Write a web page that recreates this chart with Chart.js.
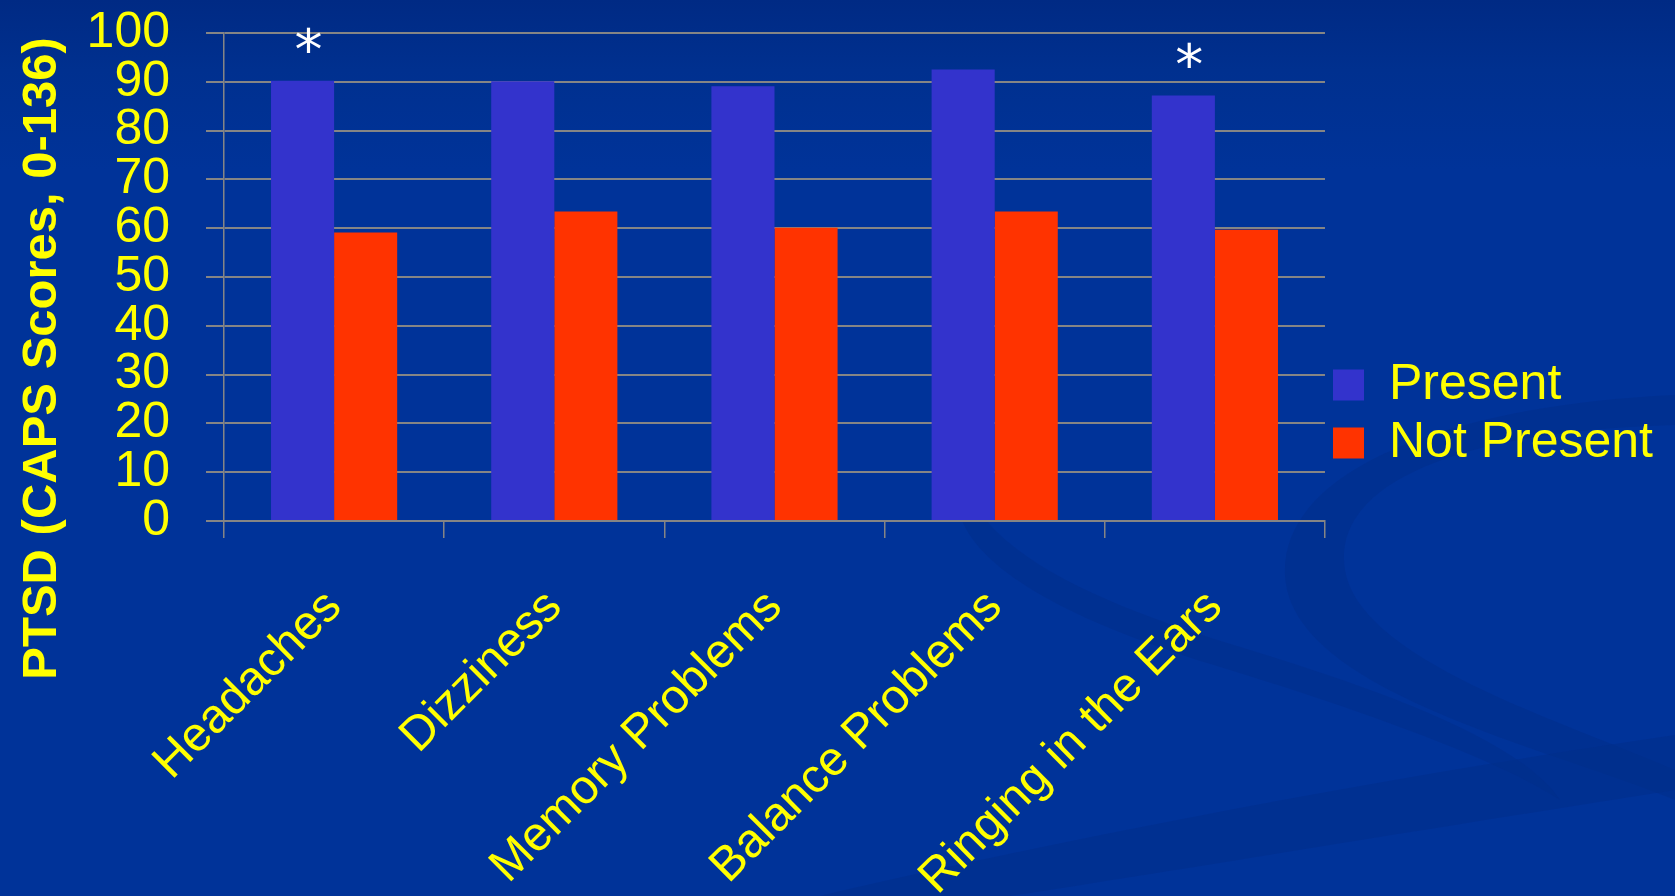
<!DOCTYPE html>
<html lang="en">
<head>
<meta charset="UTF-8">
<title>PTSD (CAPS Scores) by Post-Concussive Symptom</title>
<script src="https://cdn.jsdelivr.net/npm/chart.js"></script>
<style>
    html, body { margin: 0; padding: 0; }
    body {
        width: 1675px;
        height: 896px;
        overflow: hidden;
        background-color: #003399;
        background-image:
            url("data:image/svg+xml,%3Csvg xmlns='http://www.w3.org/2000/svg' width='1675' height='896'%3E%3Cg fill='%23002e8a' fill-opacity='0.5'%3E%3Cpath d='M1675 425 C1470 430 1330 480 1345 570 C1360 660 1560 720 1675 770 L1675 800 C1540 745 1290 690 1285 575 C1280 470 1450 405 1675 395 Z'/%3E%3Cpath d='M820 896 C1080 835 1400 775 1675 735 L1675 790 C1420 830 1180 870 1010 896 Z'/%3E%3Cpath d='M960 470 C980 560 1120 610 1250 650 C1380 690 1520 740 1560 800 C1500 760 1360 710 1230 670 C1080 625 930 560 960 470 Z'/%3E%3C/g%3E%3C/svg%3E"),
            linear-gradient(to bottom, #002a84 0px, #00308f 70px, #003399 170px);
        background-repeat: no-repeat;
    }
    #capsChart { display: block; }
</style>
</head>
<body>
<canvas id="capsChart" width="1675" height="896"></canvas>
<script>
// chart data
const symptoms = ['Headaches', 'Dizziness', 'Memory Problems', 'Balance Problems', 'Ringing in the Ears'];
const presentScores = [90.2, 90.1, 89.1, 92.5, 87.2];
const notPresentScores = [59.1, 63.4, 60.1, 63.4, 59.7];
const significance = ['*', '', '', '', '*'];
const seriesNames = ['Present', 'Not Present'];
const yTitle = 'PTSD (CAPS Scores, 0-136)';
const yMin = 0, yMax = 100, yStep = 10;

const sans = "'Liberation Sans', Arial, sans-serif";
const yellow = '#ffff00';
const gridGray = '#858585';

// rotated axis title, sits a bit lower than the plot centre like the slide
const yTitlePlugin = {
    id: 'yTitle',
    afterDraw(chart) {
        const ctx = chart.ctx;
        ctx.save();
        ctx.translate(42, chart.height * 0.4);
        ctx.rotate(-Math.PI / 2);
        ctx.font = 'bold 49px ' + sans;
        ctx.fillStyle = yellow;
        ctx.textAlign = 'center';
        ctx.textBaseline = 'middle';
        ctx.fillText(yTitle, 0, 0);
        ctx.restore();
    }
};

// asterisks above the significant "Present" bars
const starPlugin = {
    id: 'stars',
    afterDatasetsDraw(chart) {
        const ctx = chart.ctx;
        const bars = chart.getDatasetMeta(0).data;
        ctx.save();
        ctx.font = '56px DejaVu Sans';
        ctx.fillStyle = '#ffffff';
        ctx.textAlign = 'center';
        ctx.textBaseline = 'middle';
        bars.forEach((bar, i) => {
            if (significance[i]) ctx.fillText(significance[i], bar.x + 6, bar.y - 26);
        });
        ctx.restore();
    }
};

new Chart(document.getElementById('capsChart'), {
    type: 'bar',
    data: {
        labels: symptoms,
        datasets: [
            { label: seriesNames[0], data: presentScores, backgroundColor: '#3333cc' },
            { label: seriesNames[1], data: notPresentScores, backgroundColor: '#ff3300' }
        ]
    },
    options: {
        responsive: false,
        animation: false,
        layout: { padding: { top: 33, right: 12, bottom: 0, left: 0 } },
        datasets: { bar: { categoryPercentage: 0.573, barPercentage: 1 } },
        scales: {
            x: {
                grid: { drawOnChartArea: false, tickLength: 17, color: gridGray, lineWidth: 1.5 },
                border: { color: gridGray, width: 2 },
                ticks: {
                    color: yellow,
                    font: { family: sans, size: 48 },
                    minRotation: 45,
                    maxRotation: 45,
                    autoSkip: false,
                    padding: 41
                },
                afterFit(scale) { scale.height = 375; }
            },
            y: {
                min: yMin,
                max: yMax,
                grid: { color: gridGray, lineWidth: 2, tickLength: 18 },
                border: { color: gridGray, width: 1.5 },
                ticks: {
                    stepSize: yStep,
                    color: yellow,
                    font: { family: sans, size: 50, lineHeight: 1 },
                    autoSkip: false,
                    padding: 36
                },
                afterFit(scale) {
                    scale.width = 224;
                    // labels keep their gap from the axis, but the top label may overhang the padding
                    scale.paddingTop = 0;
                }
            }
        },
        plugins: {
            legend: {
                position: 'right',
                align: 'start',
                // empty title only pushes the two entries down to mid-slide
                title: { display: true, text: '', font: { size: 10, lineHeight: 1 }, padding: { top: 295, bottom: 14 } },
                labels: {
                    color: yellow,
                    font: { family: sans, size: 50 },
                    boxWidth: 31,
                    boxHeight: 31,
                    padding: 8
                }
            },
            tooltip: { enabled: false }
        }
    },
    plugins: [yTitlePlugin, starPlugin]
});
</script>
</body>
</html>
